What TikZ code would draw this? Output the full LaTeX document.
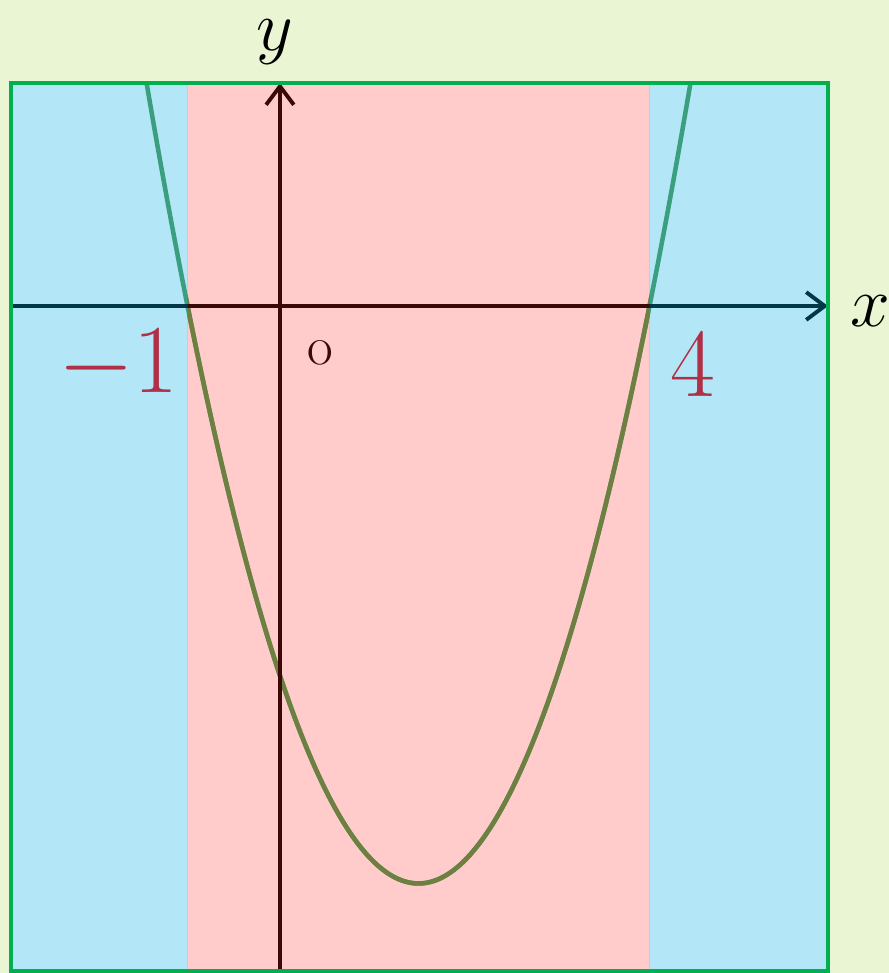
\RequirePackage{fix-cm}
\documentclass[tikz,border=0pt]{standalone}
\usetikzlibrary{arrows.meta}
\definecolor{bgcol}{RGB}{234,245,212}
\definecolor{outcol}{RGB}{179,231,248}
\definecolor{incol}{RGB}{255,203,203}
\definecolor{framecol}{RGB}{0,176,80}
\definecolor{rootcol}{RGB}{176,48,72}
\begin{document}
\begin{tikzpicture}[axis/.style={line width=1.2pt, -{Straight Barb[length=2mm, width=3mm, line width=1.2pt]}}, curve/.style={line width=1.4pt}, rootlabel/.style={text=rootcol, font=\fontsize{30}{30}\selectfont}, >=stealth]
        \fill[bgcol] (-3.030, -7.219) rectangle (6.591, 3.312);
        \useasboundingbox (-3.030, -7.219) rectangle (6.591, 3.312);
        \fill[outcol] (-2.911, -7.197) rectangle (5.931, 2.413);
        \filldraw[fill=incol, draw=gray!40, line width=0.3pt] (-1, -7.197) rectangle (4, 2.413);
        % parabola y = x^2 - 3x - 4
        \begin{scope}
            \clip (-2.911, -7.197) rectangle (5.931, 2.413);
            \draw[curve, color={rgb,255:red,58;green,158;blue,127}] plot[domain=-1.6:4.6, samples=120, smooth] (\x, {\x*\x - 3*\x - 4});
            \clip (-1, -7.197) rectangle (4, 2.413);
            \draw[curve, color={rgb,255:red,111;green,127;blue,63}] plot[domain=-1.6:4.6, samples=120, smooth] (\x, {\x*\x - 3*\x - 4});
        \end{scope}
        \coordinate (xs) at (-2.911, 0);
        \coordinate (xe) at (5.931, 0);
        \coordinate (ys) at (0, -7.219);
        \coordinate (ye) at (0, 2.413);
        \draw[axis, color={rgb,255:red,0;green,56;blue,74}] (xs) -- (xe);
        \begin{scope}
            \clip (-1, -7.219) rectangle (4, 2.413);
            \draw[line width=1.2pt, color={rgb,255:red,59;green,8;blue,8}] (xs) -- (xe);
        \end{scope}
        \draw[axis, color={rgb,255:red,59;green,8;blue,8}] (ys) -- (ye);
        \draw[framecol, line width=1.1pt] (-2.911, -7.197) rectangle (5.931, 2.413);
        \node[inner sep=0pt] (ylab) at (-0.05, 2.86) {\fontsize{22}{22}\selectfont $y$};
        \node[inner sep=0pt] (xlab) at (6.385, -0.05) {\fontsize{22}{22}\selectfont $x$};
        \node[rootlabel] (m1) at (-1.75, -0.64) {$-1$};
        \node[rootlabel] (r4) at (4.47, -0.64) {$4$};
        \node[text={rgb,255:red,59;green,8;blue,8}, font=\fontsize{10.5}{10.5}\selectfont] (o) at (0.433, -0.51) {O};
    \end{tikzpicture}
\end{document}
